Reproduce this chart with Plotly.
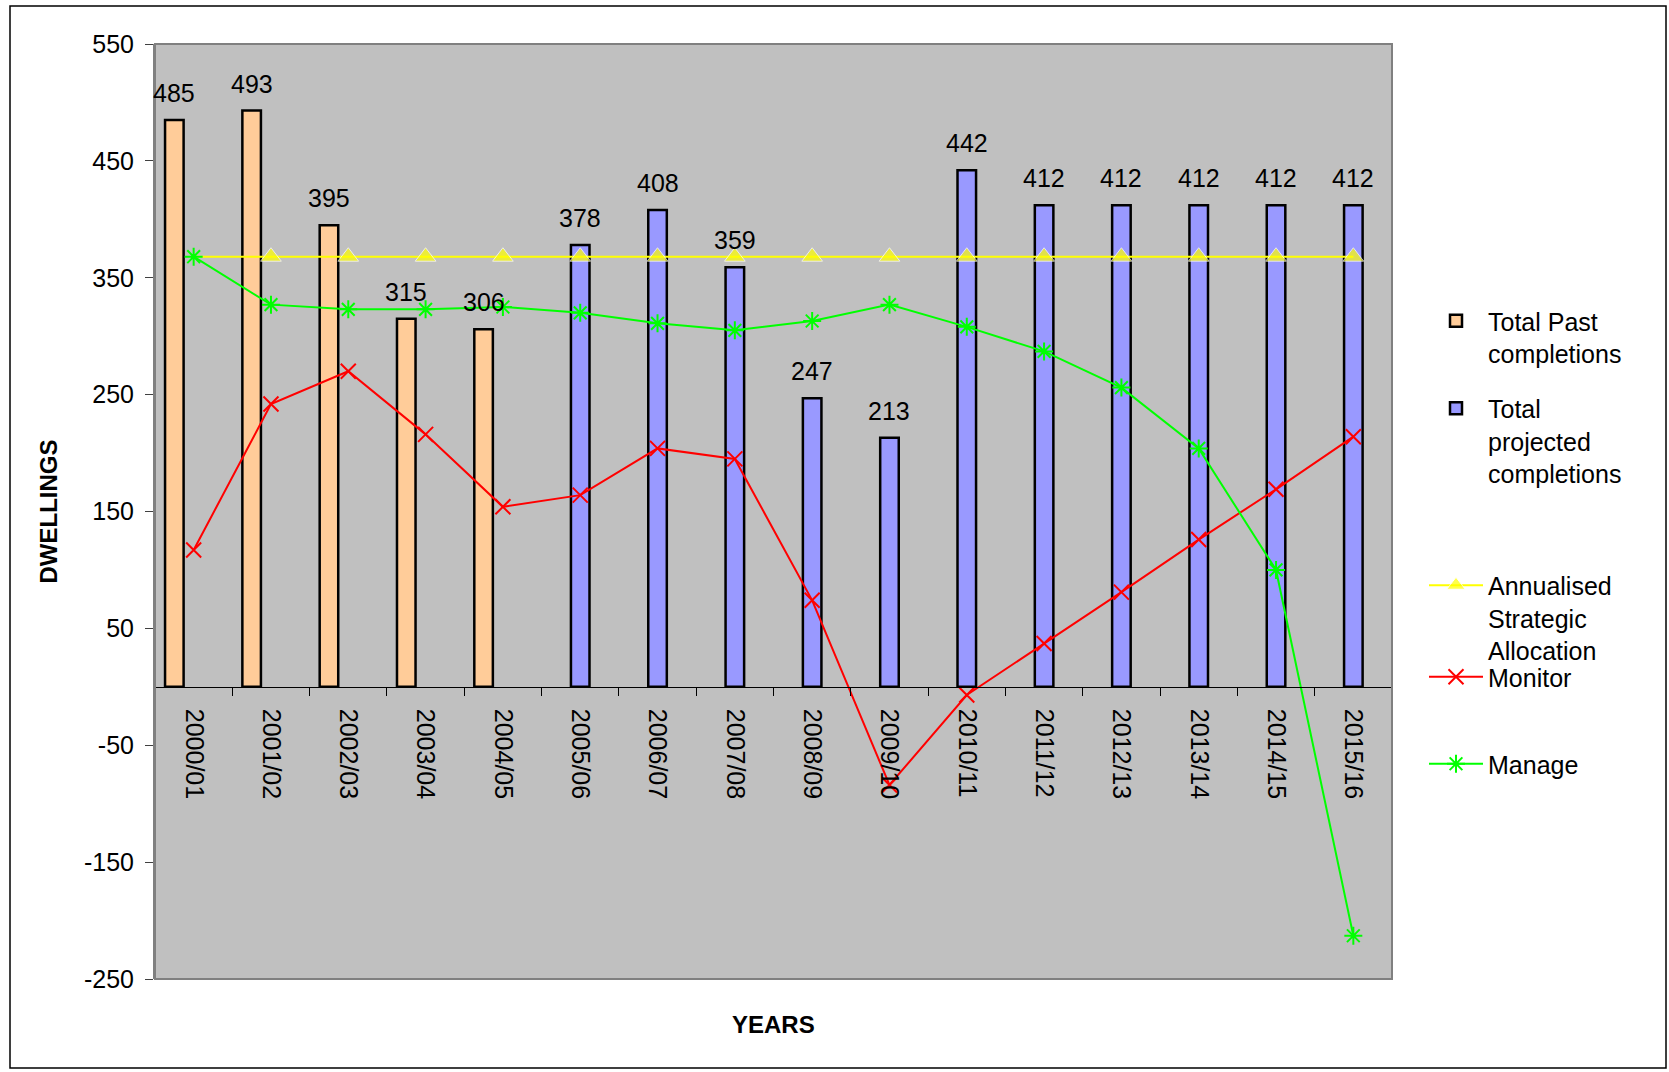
import plotly.graph_objects as go

categories = ["2000/01", "2001/02", "2002/03", "2003/04", "2004/05", "2005/06", "2006/07",
              "2007/08", "2008/09", "2009/10", "2010/11", "2011/12", "2012/13", "2013/14",
              "2014/15", "2015/16"]
past_completions = [485, 493, 395, 315, 306, None, None, None, None, None, None, None, None, None, None, None]
projected_completions = [None, None, None, None, None, 378, 408, 359, 247, 213, 442, 412, 412, 412, 412, 412]
annualised = [368] * 16
monitor = [117, 242, 270, 216, 154, 164, 204, 195, 74, -84, -7, 37, 81, 126, 169, 214]
manage = [368, 327, 323, 323, 325, 320, 311, 305, 313, 327, 308, 287, 256, 204, 100, -213]
y_ticks = [550, 450, 350, 250, 150, 50, -50, -150, -250]

FONT = "Liberation Sans, Arial, sans-serif"
FS = 25
W, H = 1669, 1072
L, R, T, B = 155, 277, 44, 93
PW, PH = W - L - R, H - T - B
y_min, y_max = -250, 550

fig = go.Figure()
fig.add_trace(go.Bar(x=categories, y=past_completions, name="Total Past<br>completions",
                     width=0.24, offset=-0.37,
                     marker=dict(color="#FFCC99", line=dict(color="black", width=2.5)),
                     legend="legend"))
fig.add_trace(go.Bar(x=categories, y=projected_completions, name="Total<br>projected<br>completions",
                     width=0.24, offset=-0.12,
                     marker=dict(color="#9999FF", line=dict(color="black", width=2.5)),
                     legend="legend2"))
fig.add_trace(go.Scatter(x=categories, y=annualised, name="Annualised<br>Strategic<br>Allocation",
                         mode="lines+markers", line=dict(color="#FFFF00", width=2),
                         marker=dict(symbol="triangle-up", size=[0] + [18] * 15, color="#FFFF00"),
                         legend="legend3"))
fig.add_trace(go.Scatter(x=categories, y=monitor, name="Monitor",
                         mode="lines+markers", line=dict(color="#FF0000", width=2),
                         marker=dict(symbol="x-thin", size=15, color="#FF0000",
                                     line=dict(color="#FF0000", width=2)),
                         legend="legend4"))
fig.add_trace(go.Scatter(x=categories, y=manage, name="Manage",
                         mode="lines+markers", line=dict(color="#00FF00", width=2),
                         marker=dict(symbol="asterisk-open", size=15, color="#00FF00",
                                     line=dict(color="#00FF00", width=2)),
                         legend="legend5"))

annotations = []
for i, v in enumerate(past_completions):
    if v is not None:
        annotations.append(dict(x=i - 0.25, y=v, xref="x", yref="y", text=str(v), showarrow=False,
                                yanchor="middle", yshift=27, font=dict(size=FS, color="black", family=FONT)))
for i, v in enumerate(projected_completions):
    if v is not None:
        annotations.append(dict(x=i, y=v, xref="x", yref="y", text=str(v), showarrow=False,
                                yanchor="middle", yshift=27, font=dict(size=FS, color="black", family=FONT)))
annotations.append(dict(x=0.5, y=0, xref="paper", yref="paper", text="<b>YEARS</b>",
                        showarrow=False, yanchor="middle", yshift=-45,
                        font=dict(size=FS - 1, color="black", family=FONT)))

def leg(ycenter_px):
    return dict(x=(1424 - L) / PW, xanchor="left", y=(H - B - ycenter_px) / PH, yanchor="middle",
                valign="top", itemwidth=54, bgcolor="rgba(0,0,0,0)", borderwidth=0,
                font=dict(size=FS, color="black", family=FONT), itemclick=False)

fig.update_layout(
    width=W, height=H,
    margin=dict(l=L, r=R, t=T, b=B, autoexpand=False),
    paper_bgcolor="white", plot_bgcolor="#C0C0C0",
    font=dict(family=FONT, size=FS, color="black"),
    showlegend=True,
    legend=leg(337), legend2=leg(441), legend3=leg(618), legend4=leg(677), legend5=leg(764),
    annotations=annotations,
    xaxis=dict(type="category", anchor="free", position=(0 - y_min) / (y_max - y_min),
               showline=True, linecolor="black", linewidth=1, showgrid=False, zeroline=False,
               ticks="outside", tickson="boundaries", ticklen=8, tickcolor="black", tickwidth=1,
               tickangle=90, ticklabelstandoff=16, tickfont=dict(size=FS, family=FONT),
               range=[-0.5, 15.5], automargin=False),
    yaxis=dict(range=[y_min, y_max], tickvals=y_ticks, ticktext=[str(v) for v in y_ticks],
               showgrid=False, zeroline=False,
               showline=True, linecolor="#808080", linewidth=2,
               ticks="outside", ticklen=8, tickcolor="#404040", tickwidth=1,
               ticklabelstandoff=6, tickfont=dict(size=FS, family=FONT),
               title=dict(text="<b>DWELLINGS</b>", font=dict(size=FS - 1, family=FONT), standoff=20),
               automargin=False),
    shapes=[
        dict(type="rect", xref="paper", yref="paper", x0=0, x1=1, y0=0, y1=1,
             line=dict(color="#808080", width=2), layer="above"),
        dict(type="rect", xref="paper", yref="paper",
             x0=(10 - L) / PW, x1=(1666 - L) / PW, y0=(H - B - 1068) / PH, y1=(H - B - 6) / PH,
             line=dict(color="black", width=1.5), layer="above"),
    ],
)

fig.write_html("out.html")
